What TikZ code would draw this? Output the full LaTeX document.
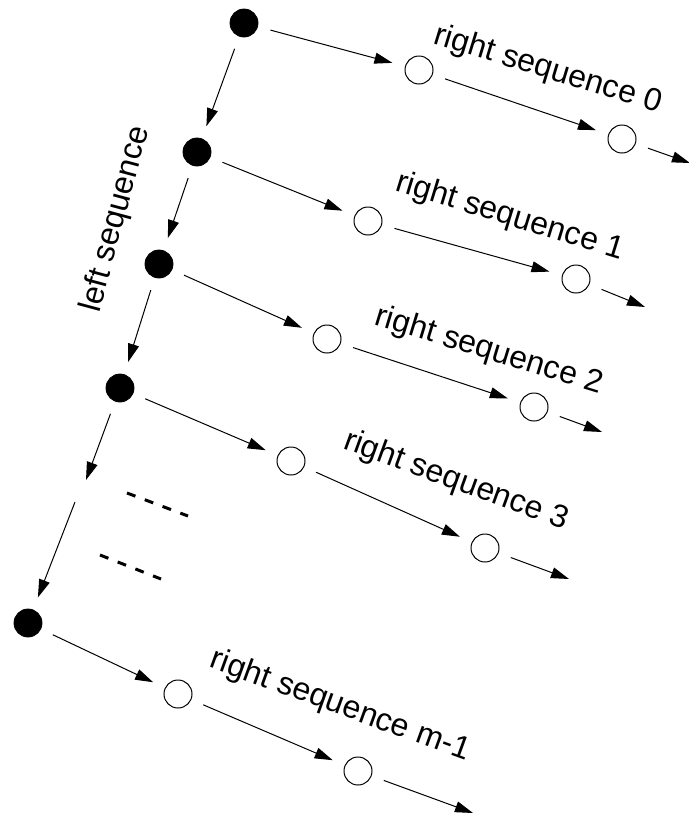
\documentclass[tikz,border=0pt]{standalone}
\usepackage{fontspec}
\setmainfont{Liberation Sans}
\usetikzlibrary{arrows.meta}

\tikzset{
	head/.style={circle,draw=black,fill=black,minimum size=14pt,inner sep=0pt},
	elem/.style={circle,draw=black,fill=white,line width=0.5pt,minimum size=14pt,inner sep=0pt},
	link/.style={-{Triangle[length=9pt,width=5.5pt]},line width=0.5pt,shorten <=6.5pt,shorten >=6.5pt},
	seqlabel/.style={font=\fontsize{16}{19}\selectfont,inner sep=0pt},
	gapmark/.style={line width=1.5pt,dash pattern=on 4.5pt off 5pt}
}

\begin{document}
\begin{tikzpicture}[x=0.5pt,y=-0.5pt]
\useasboundingbox (0,0) rectangle (689,820);

% left sequence
\node[head] (l0) at (244,23) {};
\node[head] (l1) at (197,152) {};
\node[head] (l2) at (159,264) {};
\node[head] (l3) at (120,388) {};
\node[head] (l4) at (28,623) {};
\coordinate (g1) at (86,480);
\coordinate (g2) at (75,502);

% right sequences
\node[elem] (a0) at (419,70) {};
\node[elem] (b0) at (622,139) {};
\node[elem] (a1) at (368,221) {};
\node[elem] (b1) at (576,279) {};
\node[elem] (a2) at (327,339) {};
\node[elem] (b2) at (534,407) {};
\node[elem] (a3) at (291,461) {};
\node[elem] (b3) at (485,548) {};
\node[elem] (a4) at (178,694) {};
\node[elem] (b4) at (358,771) {};

\coordinate (e0) at (690,163);
\coordinate (e1) at (645,307);
\coordinate (e2) at (602,432);
\coordinate (e3) at (569,579);
\coordinate (e4) at (473,813);

\foreach \i in {0,...,4}
{
	\draw[link] (l\i) -- (a\i);
	\draw[link] (a\i) -- (b\i);
	\draw[link,shorten >=0pt] (b\i) -- (e\i);
}
\foreach \i/\j in {0/1,1/2,2/3}
{
	\draw[link] (l\i) -- (l\j);
}
\draw[link,shorten >=0pt] (l3) -- (g1);
\draw[link,shorten <=0pt] (g2) -- (l4);

\draw[gapmark] (127,493) -- (188,516);
\draw[gapmark] (100,555) -- (161,579);

% labels
\node[seqlabel,rotate=75] (left) at (116,219) {left sequence};
\node[seqlabel,rotate=-17] (r0) at (548,70) {right sequence 0};
\node[seqlabel,rotate=-17] (r1) at (510,217) {right sequence 1};
\node[seqlabel,rotate=-17] (r2) at (489,351) {right sequence 2};
\node[seqlabel,rotate=-20] (r3) at (456,481) {right sequence 3};
\node[seqlabel,rotate=-20] (r4) at (340,706) {right sequence m-1};
\end{tikzpicture}
\end{document}
